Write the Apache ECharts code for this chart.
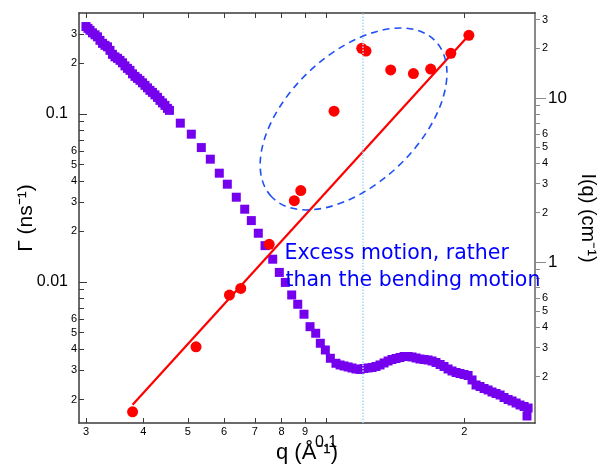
<!DOCTYPE html>
<html>
<head>
<meta charset="utf-8">
<script src="https://cdn.jsdelivr.net/npm/echarts@6.0.0/dist/echarts.min.js"></script>
<style>
  html, body { margin: 0; padding: 0; background: #ffffff; }
  #chart { width: 605px; height: 475px; }
</style>
</head>
<body>
<div id="chart"></div>
<script>
// ---- Relaxation rate Γ(q) (left axis) ----
const gammaQ = [0.0379, 0.0521, 0.0616, 0.0652, 0.0752, 0.0853, 0.0881, 0.1041, 0.1196, 0.1222, 0.1383, 0.1550, 0.1690, 0.1870, 0.2047];
const gammaVal = [0.00169, 0.00412, 0.00837, 0.00917, 0.01676, 0.0305, 0.0350, 0.104, 0.246, 0.237, 0.183, 0.174, 0.185, 0.2296, 0.294];

// q^3 guide line through the data
const fitQ = [0.0379, 0.2047];
const fitGamma = [0.00186, 0.294];

// ---- Scattering intensity I(q) (right axis) ----
const scanQ = [
  0.03000, 0.03030, 0.03061, 0.03099, 0.03139, 0.03178, 0.03218, 0.03259, 0.03300, 0.03342,
  0.03384, 0.03426, 0.03470, 0.03514, 0.03558, 0.03603, 0.03648, 0.03694, 0.03741, 0.03788,
  0.03836, 0.03884, 0.03933, 0.03983, 0.04033, 0.04084, 0.04135, 0.04187, 0.04240, 0.04294,
  0.04348, 0.04403, 0.04458, 0.04514, 0.04560,
  0.04815, 0.05088, 0.05350, 0.05597, 0.05855, 0.06095, 0.06376, 0.06651, 0.06875, 0.07120,
  0.07364, 0.07654, 0.07911, 0.08153, 0.08418, 0.08677, 0.08954, 0.09229, 0.09496, 0.09718,
  0.09965, 0.1022,
  0.1051, 0.1073, 0.1095, 0.1117, 0.1139, 0.1162, 0.1186, 0.1210, 0.1235, 0.1260,
  0.1285, 0.1311, 0.1338, 0.1365, 0.1392, 0.1421, 0.1449, 0.1479, 0.1509, 0.1539,
  0.1571, 0.1602, 0.1635, 0.1668, 0.1702, 0.1736, 0.1772, 0.1807, 0.1844, 0.1881,
  0.1920, 0.1958, 0.1998, 0.2039, 0.2080, 0.2122, 0.2165, 0.2209, 0.2254, 0.2299,
  0.2346, 0.2394, 0.2442, 0.2492, 0.2542, 0.2594, 0.2646, 0.2700, 0.2755, 0.2740
];
const scanI = [
  27.21, 26.53, 25.80, 24.91, 24.22, 23.55, 22.42, 21.49, 20.90, 20.46,
  19.48, 18.42, 17.78, 17.41, 16.93, 16.35, 15.67, 15.13, 14.71, 14.01,
  13.52, 13.15, 12.79, 12.35, 11.92, 11.51, 11.11, 10.80, 10.43, 10.07,
  9.655, 9.322, 9.000, 8.630, 8.390,
  7.012, 6.006, 4.977, 4.229, 3.474, 2.977, 2.480, 2.096, 1.786, 1.496,
  1.257, 1.039, 0.863, 0.750, 0.629, 0.552, 0.480, 0.403, 0.3675, 0.3194,
  0.2906, 0.2587,
  0.2412, 0.2355, 0.2322, 0.2290, 0.2258, 0.2226, 0.2211, 0.2242, 0.2258, 0.2274,
  0.2306, 0.2355, 0.2422, 0.2490, 0.2543, 0.2579, 0.2616, 0.2653, 0.2653, 0.2634,
  0.2597, 0.2561, 0.2543, 0.2526, 0.2490, 0.2439, 0.2371, 0.2306, 0.2226, 0.2164,
  0.2119, 0.2090, 0.2061, 0.2032, 0.1908, 0.1778, 0.1741, 0.1693, 0.1658, 0.1612,
  0.1578, 0.1545, 0.1492, 0.1451, 0.1421, 0.1381, 0.1343, 0.1315, 0.1287, 0.1151
];

// reference q where the intensity has its minimum
const markQ = 0.12;

// ---- Axis ranges and ticks ----
const qRange = [0.02897, 0.2852];
const gammaRange = [0.00145, 0.399];
const intensityRange = [0.1043, 32.9];

const qTicks = [0.03, 0.04, 0.05, 0.06, 0.07, 0.08, 0.09, 0.1, 0.2];
const qMinorLabels = [0.03, 0.04, 0.05, 0.06, 0.07, 0.08, 0.09, 0.2];
const qMinorText = ['3', '4', '5', '6', '7', '8', '9', '2'];
const qMajorLabels = [0.1];
const qMajorText = ['0.1'];

const gammaMinorTicks = [0.002, 0.003, 0.004, 0.005, 0.006, 0.007, 0.008, 0.009,
                         0.02, 0.03, 0.04, 0.05, 0.06, 0.07, 0.08, 0.09, 0.2, 0.3];
const gammaMinorLabels = [0.002, 0.003, 0.004, 0.005, 0.006, 0.02, 0.03, 0.04, 0.05, 0.06, 0.2, 0.3];
const gammaMinorText = ['2', '3', '4', '5', '6', '2', '3', '4', '5', '6', '2', '3'];
const gammaMajorTicks = [0.01, 0.1];
const gammaMajorText = ['0.01', '0.1'];

const intensityMinorTicks = [0.2, 0.3, 0.4, 0.5, 0.6, 0.7, 0.8, 0.9,
                             2, 3, 4, 5, 6, 7, 8, 9, 20, 30];
const intensityMinorLabels = [0.2, 0.3, 0.4, 0.5, 0.6, 2, 3, 4, 5, 6, 20, 30];
const intensityMinorText = ['2', '3', '4', '5', '6', '2', '3', '4', '5', '6', '2', '3'];
const intensityMajorTicks = [1, 10];
const intensityMajorText = ['1', '10'];

// ---- helpers ----
const lg = Math.log10;
const FONT = "'Liberation Sans', Arial, Helvetica, sans-serif";

function labeller(values, texts) {
  const logs = values.map(lg);
  return function (v) {
    for (let i = 0; i < logs.length; i++) {
      if (Math.abs(logs[i] - v) < 1e-6) return texts[i];
    }
    return '';
  };
}

const chart = echarts.init(document.getElementById('chart'), null, { renderer: 'canvas' });

const frameColor = '#3a3a3a';
const rightColor = '#8a8a8a';

const xBase = { type: 'value', min: lg(qRange[0]), max: lg(qRange[1]), splitLine: { show: false }, gridIndex: 0 };
const gBase = { type: 'value', min: lg(gammaRange[0]), max: lg(gammaRange[1]), splitLine: { show: false }, position: 'left' };
const iBase = { type: 'value', min: lg(intensityRange[0]), max: lg(intensityRange[1]), splitLine: { show: false }, position: 'right' };

const option = {
  animation: false,
  backgroundColor: '#ffffff',
  grid: { left: 79, top: 13, width: 456, height: 410, containLabel: false, outerBoundsMode: 'none' },
  xAxis: [
    Object.assign({}, xBase, {
      position: 'bottom',
      axisLine: { show: true, onZero: false, lineStyle: { color: frameColor, width: 1.5 } },
      axisTick: { show: true, inside: true, length: 5, customValues: qTicks.map(lg), lineStyle: { color: frameColor, width: 1 } },
      axisLabel: { show: true, customValues: qMinorLabels.map(lg), formatter: labeller(qMinorLabels, qMinorText),
                   fontSize: 11, margin: 3, color: '#000', fontFamily: FONT },
      name: 'q (Å⁻¹)', nameLocation: 'middle', nameGap: 19,
      nameTextStyle: { fontSize: 22, color: '#000', fontFamily: FONT }
    }),
    Object.assign({}, xBase, {
      position: 'bottom',
      axisLine: { show: false, onZero: false },
      axisTick: { show: false },
      axisLabel: { show: true, customValues: qMajorLabels.map(lg), formatter: labeller(qMajorLabels, qMajorText),
                   fontSize: 16, margin: 12, color: '#000', fontFamily: FONT }
    }),
    Object.assign({}, xBase, {
      position: 'top',
      axisLine: { show: true, onZero: false, lineStyle: { color: frameColor, width: 1.5 } },
      axisTick: { show: true, inside: true, length: 5, customValues: qTicks.map(lg), lineStyle: { color: frameColor, width: 1 } },
      axisLabel: { show: false }
    })
  ],
  yAxis: [
    Object.assign({}, gBase, {
      axisLine: { show: true, onZero: false, lineStyle: { color: frameColor, width: 1.5 } },
      axisTick: { show: true, inside: true, length: 5, customValues: gammaMinorTicks.map(lg), lineStyle: { color: frameColor, width: 1 } },
      axisLabel: { show: true, customValues: gammaMinorLabels.map(lg), formatter: labeller(gammaMinorLabels, gammaMinorText),
                   fontSize: 11, margin: 2, color: '#000', fontFamily: FONT },
      name: 'Γ (ns⁻¹)', nameLocation: 'middle', nameGap: 42,
      nameTextStyle: { fontSize: 21, color: '#000', fontFamily: FONT }
    }),
    Object.assign({}, gBase, {
      axisLine: { show: false, onZero: false },
      axisTick: { show: true, inside: true, length: 8, customValues: gammaMajorTicks.map(lg), lineStyle: { color: frameColor, width: 1 } },
      axisLabel: { show: true, customValues: gammaMajorTicks.map(lg), formatter: labeller(gammaMajorTicks, gammaMajorText),
                   fontSize: 16, margin: 11, color: '#000', fontFamily: FONT }
    }),
    Object.assign({}, iBase, {
      axisLine: { show: true, onZero: false, lineStyle: { color: rightColor, width: 2 } },
      axisTick: { show: true, inside: false, length: 5, customValues: intensityMinorTicks.map(lg), lineStyle: { color: rightColor, width: 1 } },
      axisLabel: { show: true, customValues: intensityMinorLabels.map(lg), formatter: labeller(intensityMinorLabels, intensityMinorText),
                   fontSize: 11, margin: 7, color: '#000', fontFamily: FONT },
      name: 'I(q) (cm⁻¹)', nameLocation: 'middle', nameGap: 43, nameRotate: -90,
      nameTextStyle: { fontSize: 20, color: '#000', fontFamily: FONT }
    }),
    Object.assign({}, iBase, {
      axisLine: { show: false, onZero: false },
      axisTick: { show: true, inside: false, length: 11, customValues: intensityMajorTicks.map(lg), lineStyle: { color: rightColor, width: 1 } },
      axisLabel: { show: true, customValues: intensityMajorTicks.map(lg), formatter: labeller(intensityMajorTicks, intensityMajorText),
                   fontSize: 17, margin: 13, color: '#000', fontFamily: FONT }
    })
  ],
  series: [
    {
      name: 'I(q)',
      type: 'scatter',
      xAxisIndex: 0,
      yAxisIndex: 2,
      symbol: 'rect',
      symbolSize: 9,
      itemStyle: { color: '#7400ee', opacity: 1 },
      data: scanQ.map((q, i) => [lg(q), lg(scanI[i])]),
      markLine: {
        silent: true,
        symbol: ['none', 'none'],
        label: { show: false },
        lineStyle: { type: 'dotted', color: '#a9d9f2', width: 1.5 },
        data: [{ xAxis: lg(markQ) }]
      },
      z: 2
    },
    {
      name: 'fit',
      type: 'line',
      xAxisIndex: 0,
      yAxisIndex: 0,
      symbol: 'none',
      lineStyle: { color: '#ff0000', width: 2.2 },
      data: fitQ.map((q, i) => [lg(q), lg(fitGamma[i])]),
      z: 3
    },
    {
      name: 'Γ',
      type: 'scatter',
      xAxisIndex: 0,
      yAxisIndex: 0,
      symbol: 'circle',
      symbolSize: 11,
      itemStyle: { color: '#ff0000', opacity: 1 },
      data: gammaQ.map((q, i) => [lg(q), lg(gammaVal[i])]),
      z: 4
    }
  ]
};

chart.setOption(option);

// Annotation: dashed ellipse around the excess points and the explanatory note
const toPx = (q, g) => chart.convertToPixel({ xAxisIndex: 0, yAxisIndex: 0 }, [lg(q), lg(g)]);
const ellipseCenter = toPx(0.1148, 0.0934);
const note1 = toPx(0.0812, 0.01468);
const note2 = toPx(0.0816, 0.01014);

const noteStyle = { fill: '#0000ff', fontSize: 20.5, fontFamily: "'DejaVu Sans', sans-serif",
                    verticalAlign: 'middle', align: 'left' };

chart.setOption({
  graphic: [
    {
      type: 'ellipse',
      x: ellipseCenter[0],
      y: ellipseCenter[1],
      rotation: 43.5 * Math.PI / 180,
      shape: { cx: 0, cy: 0, rx: 113, ry: 65 },
      style: { fill: null, stroke: '#1f4ff5', lineWidth: 1.6, lineDash: [7, 5] },
      silent: true,
      z: 100
    },
    {
      type: 'text',
      x: note1[0],
      y: note1[1],
      style: Object.assign({ text: 'Excess motion, rather' }, noteStyle),
      silent: true,
      z: 100
    },
    {
      type: 'text',
      x: note2[0],
      y: note2[1],
      style: Object.assign({ text: 'than the bending motion' }, noteStyle),
      silent: true,
      z: 100
    }
  ]
});
</script>
</body>
</html>
